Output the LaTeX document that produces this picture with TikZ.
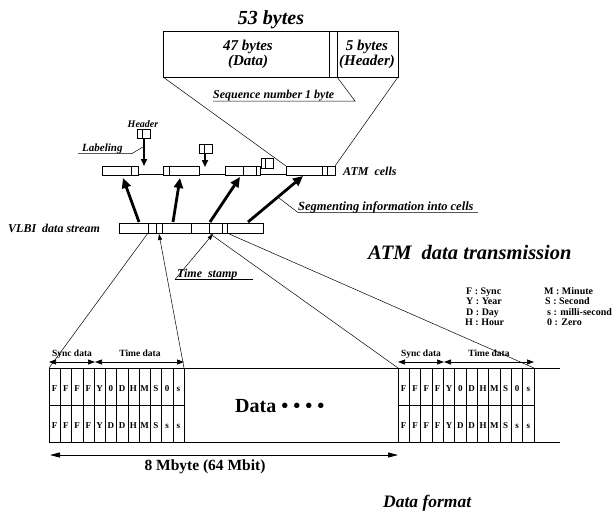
\documentclass[tikz,border=0pt]{standalone}
\usepackage{fontspec}
\setmainfont{Liberation Serif}
\usetikzlibrary{arrows.meta}
\newcommand\myfs[1]{\fontsize{#1}{#1}\selectfont}
\begin{document}
\begin{tikzpicture}[x=1pt,y=-1pt,
  bi/.style={inner sep=0pt,font=\bfseries\itshape},
  bu/.style={inner sep=0pt,font=\bfseries},
  box/.style={line width=0.6pt},
  fat/.style={line width=2.8pt,-{Triangle[length=10pt,width=9pt]}},
  hdr/.style={line width=1.6pt,-{Triangle[length=7pt,width=6pt]}},
  thin/.style={line width=0.5pt},
  tip/.style={line width=0.5pt,-{Triangle[length=6pt,width=4pt]}},
  dim/.style={line width=0.7pt,{Triangle[length=7pt,width=5pt]}-{Triangle[length=7pt,width=5pt]}},
  tl/.style={line width=0.5pt},
  tt/.style={line width=1pt},
  cellt/.style={inner sep=0pt,anchor=base,font=\bfseries\myfs{9}}]
\useasboundingbox (0,0) rectangle (612,511);

% ---- top: 53 byte cell
\node[bi,anchor=base] (t53) at (271,25) {\myfs{20}53 bytes};
\draw[box] (163,31) rectangle (398,77);
\draw[box] (329,31) -- (329,77);
\draw[box] (337,31) -- (337,77);
\coordinate (c53bl) at (163,77);
\coordinate (c53br) at (398,77);
\coordinate (seqb) at (337,77);
\node[bi,anchor=base] (t47) at (248,50) {\myfs{15}47 bytes};
\node[bi,anchor=base] (tdata) at (248,66) {\myfs{15}(Data)};
\node[bi,anchor=base] (t5) at (367,50) {\myfs{15}5 bytes};
\node[bi,anchor=base] (thead) at (367,66) {\myfs{15}(Header)};
\node[bi,anchor=base west] (tseq) at (213,98.5) {\myfs{12}Sequence number 1 byte};
\coordinate (seqk) at (355,101);
\coordinate (seql) at (213,101);
\draw[thin] (seqb) -- (seqk) -- (seql);

% ---- ATM cells
\draw[box] (102,166) rectangle (138,175); \draw[box] (131,166) -- (131,175);
\draw[box] (163,166) rectangle (199,175); \draw[box] (169,166) -- (169,175);
\draw[box] (225,166) rectangle (260,175); \draw[box] (243,166) -- (243,175); \draw[box] (256,166) -- (256,175);
\draw[box] (286,166) rectangle (335,175); \draw[box] (322,166) -- (322,175); \draw[box] (327,166) -- (327,175);
\draw[thin] (138,174) -- (163,174);
\draw[thin] (199,174) -- (225,174);
\draw[thin] (260,174) -- (286,174);
\coordinate (c4l) at (286,166);
\coordinate (c4r) at (335,166);
\draw[thin] (c53bl) -- (c4l);
\draw[thin] (c53br) -- (c4r);
\draw[box] (261,158) rectangle (273,168); \draw[box] (265,158) -- (265,168);
\node[bi,anchor=base west] (tatm) at (343,175) {\myfs{12}ATM\ \ cells};

% header boxes
\node[bi,anchor=base] (theader) at (143,127) {\myfs{10}Header};
\draw[box] (137,129) rectangle (150,138); \draw[box] (142,129) -- (142,138);
\coordinate (h1) at (144,138);
\coordinate (h1t) at (144,166);
\draw[hdr] (h1) -- (h1t);
\draw[box] (199,144) rectangle (212,153); \draw[box] (204,144) -- (204,153);
\coordinate (h2) at (205,153);
\coordinate (h2t) at (205,167);
\draw[hdr] (h2) -- (h2t);
\node[bi,anchor=base west] (tlab) at (82,151) {\myfs{11}Labeling};
\coordinate (lab0) at (78,153.5);
\coordinate (lab1) at (132,153.5);
\coordinate (lab2) at (143,147);
\draw[thin] (lab0) -- (lab1) -- (lab2);

% ---- VLBI stream
\node[bi,anchor=base west] (tvlbi) at (8,232) {\myfs{12}VLBI\ \ data stream};
\draw[box] (119,223) rectangle (263,233);
\foreach \xx in {148,156,162,191,209,222,227} \draw[box] (\xx,223) -- (\xx,233);

% thick arrows stream -> cells
\draw[fat] (139,222) -- (123,178);
\draw[fat] (173,222) -- (180,178);
\draw[fat] (210,222) -- (240,177);
\draw[fat] (248,222) -- (303,176);

% segmenting label
\node[bi,anchor=base west] (tseg) at (298,210) {\myfs{12.5}Segmenting information into cells};
\coordinate (seg0) at (279,198);
\coordinate (seg1) at (298,212.5);
\coordinate (seg2) at (478,212.5);
\draw[thin] (seg0) -- (seg1) -- (seg2);

\node[bi,anchor=base west] (tatmdt) at (368,259) {\myfs{20.5}ATM\ \ data transmission};

% time stamp
\node[bi,anchor=base west] (tts) at (177,277) {\myfs{12}Time\ \ stamp};
\coordinate (ts0) at (175,279.5);
\coordinate (ts1) at (253,279.5);
\draw[thin] (ts0) -- (ts1);
\coordinate (tsbox1) at (159,234);
\coordinate (tsbox2) at (213,234);
\draw[tip] (ts0) -- (tsbox2);

% ---- fan-out lines
\coordinate (Ltl) at (49,368);
\coordinate (Ltr) at (184,368);
\coordinate (Rtl) at (398,368);
\coordinate (Rtr) at (534,368);
\draw[thin] (148,233) -- (Ltl);
\draw[tip] (Ltr) -- (tsbox1);
\draw[thin] (209,233) -- (Rtl);
\draw[thin] (227,233) -- (Rtr);

% ---- legend
\begin{scope}[every node/.style={bu,anchor=base west,font=\bfseries\myfs{10}}]
\node (lF) at (466,294) {F : Sync};
\node (lY) at (466,304.5) {Y : Year};
\node (lD) at (466,315) {D : Day};
\node (lH) at (465,325.5) {H : Hour};
\node (lM) at (544,294) {M : Minute};
\node (lS) at (545,304.5) {S : Second};
\node (ls) at (547,315) {s : milli-second};
\node (l0) at (547,325.5) {0 : Zero};
\end{scope}

% ---- data format table
\draw[tt] (49,368) -- (560,368);
\draw[tt] (49,442) -- (560,442);
\draw[tl] (49,405) -- (184,405);
\draw[tl] (398,405) -- (534,405);
\foreach \i in {0,...,12} {
  \pgfmathsetmacro\xa{49+11.25*\i}
  \pgfmathsetmacro\xb{398+11.333*\i}
  \ifnum\i=0 \def\lw{1pt}\else\ifnum\i=4 \def\lw{1pt}\else\ifnum\i=12 \def\lw{1pt}\else\def\lw{0.5pt}\fi\fi\fi
  \draw[line width=\lw] (\xa,368) -- (\xa,442);
  \draw[line width=\lw] (\xb,368) -- (\xb,442);
}
\foreach \l [count=\i from 0] in {F,F,F,F,Y,0,D,H,M,S,0,s} {
  \node[cellt] (La\i) at ({49+11.25*(\i+0.5)},391) {\l};
  \node[cellt] (Ra\i) at ({398+11.333*(\i+0.5)},391) {\l};
}
\foreach \l [count=\i from 0] in {F,F,F,F,Y,D,D,H,M,S,s,s} {
  \node[cellt] (Lb\i) at ({49+11.25*(\i+0.5)},428) {\l};
  \node[cellt] (Rb\i) at ({398+11.333*(\i+0.5)},428) {\l};
}
\node[bu,anchor=base west] (tdat) at (235,412) {\myfs{20}Data • • • •};

% sync/time dims
\draw[dim] (49,362) -- (95,362);
\draw[dim] (95,362) -- (184,362);
\draw[dim] (398,362) -- (444,362);
\draw[dim] (444,362) -- (534,362);
\node[bu,anchor=base] (sd1) at (72,356) {\myfs{9.5}Sync data};
\node[bu,anchor=base] (td1) at (140,356) {\myfs{9.5}Time data};
\node[bu,anchor=base] (sd2) at (421,356) {\myfs{9.5}Sync data};
\node[bu,anchor=base] (td2) at (489,356) {\myfs{9.5}Time data};

% 8 Mbyte
\draw[line width=0.8pt,{Triangle[length=10pt,width=5pt]}-{Triangle[length=10pt,width=5pt]}] (50,455) -- (398,455);
\node[bu,anchor=base] (t8m) at (205,470) {\myfs{15.5}8 Mbyte (64 Mbit)};
\node[bi,anchor=base west] (tdf) at (383,507) {\myfs{17.5}Data format};
\end{tikzpicture}
\end{document}
